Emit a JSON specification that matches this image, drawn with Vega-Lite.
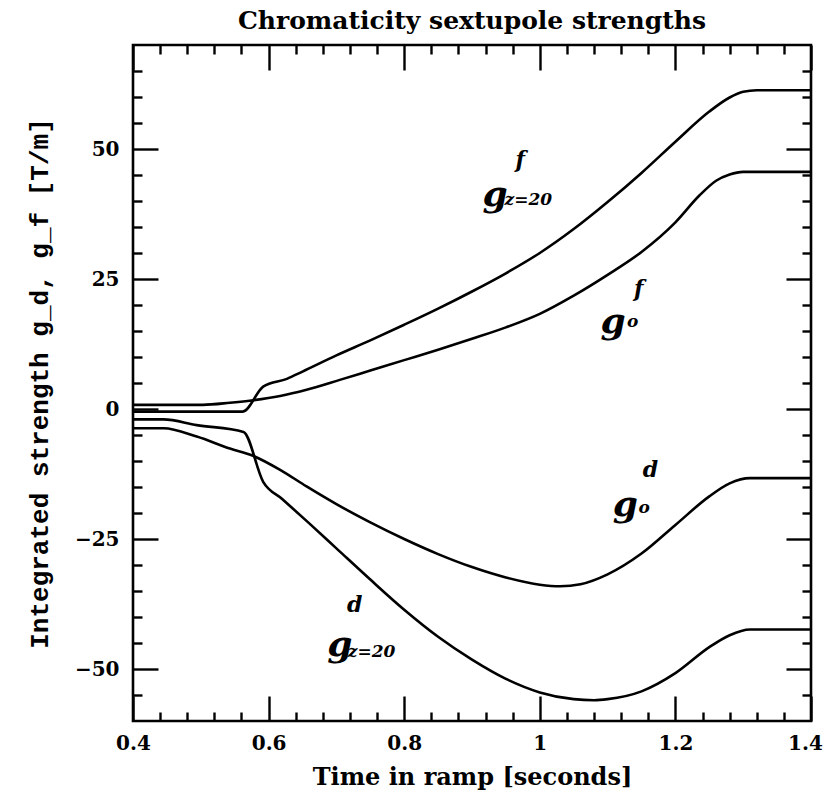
{
  "$schema": "https://vega.github.io/schema/vega-lite/v6.json",
  "width": 678,
  "height": 676,
  "autosize": {"type": "none"},
  "padding": {"left": 133, "top": 45, "right": 16, "bottom": 83},
  "background": "white",
  "title": {"text": "Chromaticity sextupole strengths", "font": "DejaVu Serif", "fontSize": 25, "fontWeight": "bold", "color": "black", "offset": 10},
  "config": {
    "view": {"stroke": "black", "strokeWidth": 2.6},
    "axis": {"grid": false, "domain": false, "labelColor": "black", "titleColor": "black", "labelFont": "DejaVu Serif", "labelFontWeight": "bold", "labelFontSize": 20, "tickColor": "black", "tickWidth": 2.4}
  },
  "data": {"values": [
    {"t": 0.40, "g": -0.5, "s": "gf20"}, {"t": 0.50, "g": -0.5, "s": "gf20"}, {"t": 0.562, "g": -0.5, "s": "gf20"}, {"t": 0.592, "g": 4.3, "s": "gf20"}, {"t": 0.627, "g": 5.8, "s": "gf20"}, {"t": 0.65, "g": 7.2, "s": "gf20"}, {"t": 0.70, "g": 10.3, "s": "gf20"}, {"t": 0.75, "g": 13.2, "s": "gf20"}, {"t": 0.80, "g": 16.2, "s": "gf20"}, {"t": 0.85, "g": 19.3, "s": "gf20"}, {"t": 0.90, "g": 22.6, "s": "gf20"}, {"t": 0.95, "g": 26.1, "s": "gf20"}, {"t": 1.00, "g": 30.0, "s": "gf20"}, {"t": 1.05, "g": 34.6, "s": "gf20"}, {"t": 1.10, "g": 39.8, "s": "gf20"}, {"t": 1.15, "g": 45.4, "s": "gf20"}, {"t": 1.20, "g": 51.4, "s": "gf20"}, {"t": 1.25, "g": 57.2, "s": "gf20"}, {"t": 1.28, "g": 59.9, "s": "gf20"}, {"t": 1.30, "g": 61.0, "s": "gf20"}, {"t": 1.32, "g": 61.3, "s": "gf20"}, {"t": 1.40, "g": 61.3, "s": "gf20"},
    {"t": 0.40, "g": 0.8, "s": "gf0"}, {"t": 0.503, "g": 0.8, "s": "gf0"}, {"t": 0.543, "g": 1.2, "s": "gf0"}, {"t": 0.572, "g": 1.6, "s": "gf0"}, {"t": 0.617, "g": 2.5, "s": "gf0"}, {"t": 0.656, "g": 3.7, "s": "gf0"}, {"t": 0.705, "g": 5.6, "s": "gf0"}, {"t": 0.75, "g": 7.4, "s": "gf0"}, {"t": 0.80, "g": 9.4, "s": "gf0"}, {"t": 0.85, "g": 11.4, "s": "gf0"}, {"t": 0.90, "g": 13.5, "s": "gf0"}, {"t": 0.95, "g": 15.7, "s": "gf0"}, {"t": 1.00, "g": 18.3, "s": "gf0"}, {"t": 1.05, "g": 21.8, "s": "gf0"}, {"t": 1.10, "g": 25.8, "s": "gf0"}, {"t": 1.15, "g": 30.2, "s": "gf0"}, {"t": 1.20, "g": 35.9, "s": "gf0"}, {"t": 1.235, "g": 41.0, "s": "gf0"}, {"t": 1.26, "g": 43.9, "s": "gf0"}, {"t": 1.28, "g": 45.1, "s": "gf0"}, {"t": 1.30, "g": 45.6, "s": "gf0"}, {"t": 1.40, "g": 45.6, "s": "gf0"},
    {"t": 0.40, "g": -3.7, "s": "gd0"}, {"t": 0.445, "g": -3.7, "s": "gd0"}, {"t": 0.494, "g": -5.3, "s": "gd0"}, {"t": 0.543, "g": -7.6, "s": "gd0"}, {"t": 0.577, "g": -9.0, "s": "gd0"}, {"t": 0.617, "g": -11.7, "s": "gd0"}, {"t": 0.656, "g": -14.9, "s": "gd0"}, {"t": 0.70, "g": -18.3, "s": "gd0"}, {"t": 0.75, "g": -21.8, "s": "gd0"}, {"t": 0.80, "g": -25.0, "s": "gd0"}, {"t": 0.85, "g": -27.9, "s": "gd0"}, {"t": 0.90, "g": -30.4, "s": "gd0"}, {"t": 0.95, "g": -32.4, "s": "gd0"}, {"t": 1.00, "g": -33.8, "s": "gd0"}, {"t": 1.03, "g": -34.1, "s": "gd0"}, {"t": 1.06, "g": -33.7, "s": "gd0"}, {"t": 1.10, "g": -31.8, "s": "gd0"}, {"t": 1.15, "g": -27.8, "s": "gd0"}, {"t": 1.20, "g": -22.3, "s": "gd0"}, {"t": 1.25, "g": -16.8, "s": "gd0"}, {"t": 1.28, "g": -14.3, "s": "gd0"}, {"t": 1.31, "g": -13.3, "s": "gd0"}, {"t": 1.40, "g": -13.3, "s": "gd0"},
    {"t": 0.40, "g": -2.0, "s": "gd20"}, {"t": 0.445, "g": -2.0, "s": "gd20"}, {"t": 0.494, "g": -3.1, "s": "gd20"}, {"t": 0.563, "g": -4.4, "s": "gd20"}, {"t": 0.592, "g": -14.0, "s": "gd20"}, {"t": 0.62, "g": -17.3, "s": "gd20"}, {"t": 0.66, "g": -22.0, "s": "gd20"}, {"t": 0.70, "g": -26.8, "s": "gd20"}, {"t": 0.75, "g": -32.8, "s": "gd20"}, {"t": 0.80, "g": -38.6, "s": "gd20"}, {"t": 0.85, "g": -43.8, "s": "gd20"}, {"t": 0.90, "g": -48.2, "s": "gd20"}, {"t": 0.95, "g": -51.9, "s": "gd20"}, {"t": 1.00, "g": -54.5, "s": "gd20"}, {"t": 1.05, "g": -55.8, "s": "gd20"}, {"t": 1.08, "g": -56.0, "s": "gd20"}, {"t": 1.10, "g": -55.8, "s": "gd20"}, {"t": 1.15, "g": -54.3, "s": "gd20"}, {"t": 1.20, "g": -50.8, "s": "gd20"}, {"t": 1.25, "g": -45.8, "s": "gd20"}, {"t": 1.28, "g": -43.5, "s": "gd20"}, {"t": 1.31, "g": -42.4, "s": "gd20"}, {"t": 1.40, "g": -42.4, "s": "gd20"}
  ]},
  "resolve": {"axis": {"x": "independent", "y": "independent"}},
  "layer": [
    {
      "mark": {"type": "line", "color": "black", "strokeWidth": 2.6, "interpolate": "monotone"},
      "encoding": {
        "x": {"field": "t", "type": "quantitative", "scale": {"domain": [0.4, 1.4], "nice": false, "zero": false},
          "axis": {"orient": "bottom", "values": [0.4, 0.6, 0.8, 1, 1.2, 1.4], "format": "~g", "ticks": false, "labelPadding": 12, "labelFlush": false, "labelOffset": {"condition": {"test": "datum.value > 1.3", "value": -6}, "value": 0}, "title": "Time in ramp [seconds]", "titleFont": "DejaVu Serif", "titleFontSize": 24, "titleFontWeight": "bold", "titlePadding": 12}},
        "y": {"field": "g", "type": "quantitative", "scale": {"domain": [-60, 70], "nice": false, "zero": false},
          "axis": {"orient": "left", "values": [-50, -25, 0, 25, 50], "ticks": false, "labelPadding": 14, "title": "Integrated strength g_d, g_f [T/m]", "titleFont": "Liberation Mono", "titleFontSize": 26, "titleFontWeight": "bold", "titlePadding": 22}},
        "detail": {"field": "s", "type": "nominal"}
      }
    },
    {
      "mark": {"type": "point", "opacity": 0},
      "encoding": {
        "x": {"field": "t", "type": "quantitative", "scale": {"domain": [0.4, 1.4], "nice": false, "zero": false},
          "axis": {"orient": "bottom", "values": [0.4, 0.6, 0.8, 1, 1.2, 1.4], "labels": false, "tickSize": -25, "title": null}},
        "y": {"field": "g", "type": "quantitative", "scale": {"domain": [-60, 70], "nice": false, "zero": false},
          "axis": {"orient": "left", "values": [-50, -25, 0, 25, 50], "labels": false, "tickSize": -25, "title": null}}
      }
    },
    {
      "mark": {"type": "point", "opacity": 0},
      "encoding": {
        "x": {"field": "t", "type": "quantitative", "scale": {"domain": [0.4, 1.4], "nice": false, "zero": false},
          "axis": {"orient": "bottom", "values": [0.44, 0.48, 0.52, 0.56, 0.64, 0.68, 0.72, 0.76, 0.84, 0.88, 0.92, 0.96, 1.04, 1.08, 1.12, 1.16, 1.24, 1.28, 1.32, 1.36], "labels": false, "tickSize": -9, "title": null}},
        "y": {"field": "g", "type": "quantitative", "scale": {"domain": [-60, 70], "nice": false, "zero": false},
          "axis": {"orient": "left", "values": [-55, -45, -40, -35, -30, -20, -15, -10, -5, 5, 10, 15, 20, 30, 35, 40, 45, 55, 60, 65], "labels": false, "tickSize": -9, "title": null}}
      }
    },
    {
      "mark": {"type": "point", "opacity": 0},
      "encoding": {
        "x": {"field": "t", "type": "quantitative", "scale": {"domain": [0.4, 1.4], "nice": false, "zero": false},
          "axis": {"orient": "top", "values": [0.4, 0.6, 0.8, 1, 1.2, 1.4], "labels": false, "tickSize": -25, "title": null}},
        "y": {"field": "g", "type": "quantitative", "scale": {"domain": [-60, 70], "nice": false, "zero": false},
          "axis": {"orient": "right", "values": [-50, -25, 0, 25, 50], "labels": false, "tickSize": -25, "title": null}}
      }
    },
    {
      "mark": {"type": "point", "opacity": 0},
      "encoding": {
        "x": {"field": "t", "type": "quantitative", "scale": {"domain": [0.4, 1.4], "nice": false, "zero": false},
          "axis": {"orient": "top", "values": [0.44, 0.48, 0.52, 0.56, 0.64, 0.68, 0.72, 0.76, 0.84, 0.88, 0.92, 0.96, 1.04, 1.08, 1.12, 1.16, 1.24, 1.28, 1.32, 1.36], "labels": false, "tickSize": -9, "title": null}},
        "y": {"field": "g", "type": "quantitative", "scale": {"domain": [-60, 70], "nice": false, "zero": false},
          "axis": {"orient": "right", "values": [-55, -45, -40, -35, -30, -20, -15, -10, -5, 5, 10, 15, 20, 30, 35, 40, 45, 55, 60, 65], "labels": false, "tickSize": -9, "title": null}}
      }
    },
    {
      "data": {"values": [
        {"t": 0.934, "g": 41.2, "txt": "g"}, {"t": 1.108, "g": 16.7, "txt": "g"}, {"t": 1.126, "g": -18.5, "txt": "g"}, {"t": 0.705, "g": -45.4, "txt": "g"}
      ]},
      "mark": {"type": "text", "font": "DejaVu Serif", "fontStyle": "italic", "fontWeight": "bold", "fontSize": 36, "color": "black"},
      "encoding": {
        "x": {"field": "t", "type": "quantitative", "scale": {"domain": [0.4, 1.4], "nice": false, "zero": false}, "axis": null},
        "y": {"field": "g", "type": "quantitative", "scale": {"domain": [-60, 70], "nice": false, "zero": false}, "axis": null},
        "text": {"field": "txt"}
      }
    },
    {
      "data": {"values": [
        {"t": 0.971, "g": 47.9, "txt": "f"}, {"t": 1.146, "g": 23.1, "txt": "f"}, {"t": 1.163, "g": -11.7, "txt": "d"}, {"t": 0.727, "g": -37.7, "txt": "d"}
      ]},
      "mark": {"type": "text", "font": "DejaVu Serif", "fontStyle": "italic", "fontWeight": "bold", "fontSize": 22, "color": "black"},
      "encoding": {
        "x": {"field": "t", "type": "quantitative", "scale": {"domain": [0.4, 1.4], "nice": false, "zero": false}, "axis": null},
        "y": {"field": "g", "type": "quantitative", "scale": {"domain": [-60, 70], "nice": false, "zero": false}, "axis": null},
        "text": {"field": "txt"}
      }
    },
    {
      "data": {"values": [
        {"t": 0.983, "g": 40.2, "txt": "z=20"}, {"t": 1.137, "g": 16.7, "txt": "o"}, {"t": 1.154, "g": -19.0, "txt": "o"}, {"t": 0.752, "g": -46.7, "txt": "z=20"}
      ]},
      "mark": {"type": "text", "font": "DejaVu Serif", "fontStyle": "italic", "fontWeight": "bold", "fontSize": 17, "color": "black"},
      "encoding": {
        "x": {"field": "t", "type": "quantitative", "scale": {"domain": [0.4, 1.4], "nice": false, "zero": false}, "axis": null},
        "y": {"field": "g", "type": "quantitative", "scale": {"domain": [-60, 70], "nice": false, "zero": false}, "axis": null},
        "text": {"field": "txt"}
      }
    }
  ]
}
